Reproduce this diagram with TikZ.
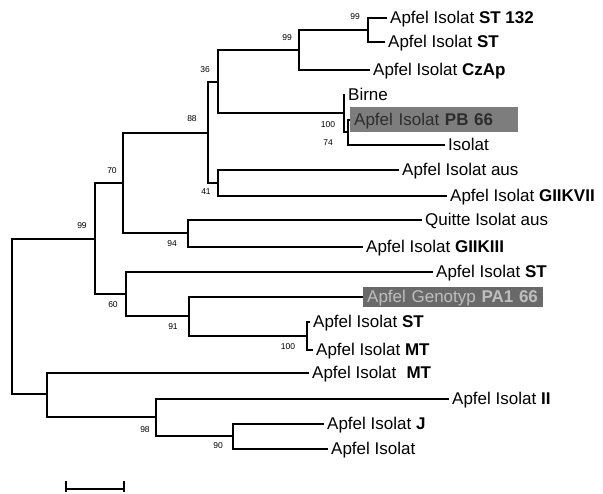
\documentclass[tikz,border=0pt]{standalone}
\usepackage{fontspec}
\setmainfont{Liberation Sans}
\definecolor{boxA}{RGB}{125,125,125}
\definecolor{txtA}{RGB}{45,45,45}
\definecolor{boxB}{RGB}{105,105,105}
\definecolor{txtB}{RGB}{190,190,190}
\begin{document}
\begin{tikzpicture}[x=1pt,y=-1pt,
  br/.style={line width=2.9pt},
  leaf/.style={anchor=west, inner xsep=3pt, inner ysep=0pt,
    font=\fontsize{17}{20}\selectfont, text height=13pt, text depth=1pt},
  hlbox/.style={leaf, align=left, inner xsep=4pt},
  bs/.style={font=\fontsize{8.5}{10}\selectfont, inner sep=0pt}]
\useasboundingbox[fill=white] (0,0) rectangle (603,494);

% leaves
\node[leaf] (l1) at (387,18) {Apfel Isolat \textbf{ST 132}};
\node[leaf] (l2) at (385,42) {Apfel Isolat \textbf{ST}};
\node[leaf] (l3) at (370,70) {Apfel Isolat \textbf{CzAp}};
\node[leaf] (l4) at (345,95) {Birne};
\node[hlbox, fill=boxA, text=txtA, text width=160pt, inner ysep=5.5pt] (l5) at (350,120) {Apfel Isolat \textbf{PB 66}};
\node[leaf] (l6) at (445,145) {Isolat};
\node[leaf] (l7) at (399,170) {Apfel Isolat aus};
\node[leaf] (l8) at (447,196) {Apfel Isolat \textbf{GIIKVII}};
\node[leaf] (l9) at (422,220) {Quitte Isolat aus};
\node[leaf] (l10) at (363,247) {Apfel Isolat \textbf{GIIKIII}};
\node[leaf] (l11) at (433,272) {Apfel Isolat \textbf{ST}};
\node[hlbox, fill=boxB, text=txtB, text width=172pt, inner ysep=3pt] (l12) at (363,297) {Apfel Genotyp \textbf{PA1 66}};
\node[leaf] (l13) at (310,322) {Apfel Isolat \textbf{ST}};
\node[leaf] (l14) at (313,350) {Apfel Isolat \textbf{MT}};
\node[leaf] (l15) at (309,373) {Apfel Isolat\hspace{0.6em}\textbf{MT}};
\node[leaf] (l16) at (449,399) {Apfel Isolat \textbf{II}};
\node[leaf] (l17) at (324,424) {Apfel Isolat \textbf{J}};
\node[leaf] (l18) at (328,449) {Apfel Isolat};

% internal nodes
\coordinate (r) at (12,316);
\coordinate (n99) at (95,239);
\coordinate (n70) at (123,183);
\coordinate (n88) at (208,133);
\coordinate (n36) at (218,82);
\coordinate (n99b) at (299,50);
\coordinate (n99c) at (368,30);
\coordinate (n74) at (344,113);
\coordinate (n100) at (348,132);
\coordinate (n41) at (218,183);
\coordinate (n94) at (188,233);
\coordinate (n60) at (126,294);
\coordinate (n91) at (189,316);
\coordinate (n100b) at (307,336);
\coordinate (nout) at (47,394);
\coordinate (n98) at (156,417);
\coordinate (n90) at (233,436);

% branches
\draw[br] (n99) -| (r) |- (nout);
\draw[br] (n70) -| (n99) |- (n60);
\draw[br] (n88) -| (n70) |- (n94);
\draw[br] (n36) -| (n88) |- (n41);
\draw[br] (n99b) -| (n36) |- (n74);
\draw[br] (n99c) -| (n99b) |- (l3.west);
\draw[br] (l1.west) -| (n99c) |- (l2.west);
\draw[br] (l4.west) -| (n74) |- (n100);
\draw[br] (l5.west) -| (n100) |- (l6.west);
\draw[br] (l7.west) -| (n41) |- (l8.west);
\draw[br] (l9.west) -| (n94) |- (l10.west);
\draw[br] (l11.west) -| (n60) |- (n91);
\draw[br] (l12.west) -| (n91) |- (n100b);
\draw[br] (l13.west) -| (n100b) |- (l14.west);
\draw[br] (l15.west) -| (nout) |- (n98);
\draw[br] (l16.west) -| (n98) |- (n90);
\draw[br] (l17.west) -| (n90) |- (l18.west);

% bootstrap values
\node[bs] (b1) at (355,17) {99};
\node[bs] (b2) at (287,38) {99};
\node[bs] (b3) at (205,70) {36};
\node[bs] (b4) at (192,119) {88};
\node[bs] (b5) at (328,125) {100};
\node[bs] (b6) at (328,143) {74};
\node[bs] (b7) at (206,192) {41};
\node[bs] (b8) at (112,171) {70};
\node[bs] (b9) at (172,244) {94};
\node[bs] (b10) at (82,226) {99};
\node[bs] (b11) at (113,305) {60};
\node[bs] (b12) at (173,327) {91};
\node[bs] (b13) at (288,347) {100};
\node[bs] (b14) at (145,430) {98};
\node[bs] (b15) at (218,446) {90};

% scale bar
\coordinate (s1) at (66,489);
\coordinate (s2) at (124,489);
\draw[line width=1.4pt] ([yshift=8pt]s1) -- ([yshift=-3pt]s1);
\draw[line width=1.4pt] ([yshift=8pt]s2) -- ([yshift=-3pt]s2);
\draw[line width=1.4pt] (s1) -- (s2);
\end{tikzpicture}
\end{document}
